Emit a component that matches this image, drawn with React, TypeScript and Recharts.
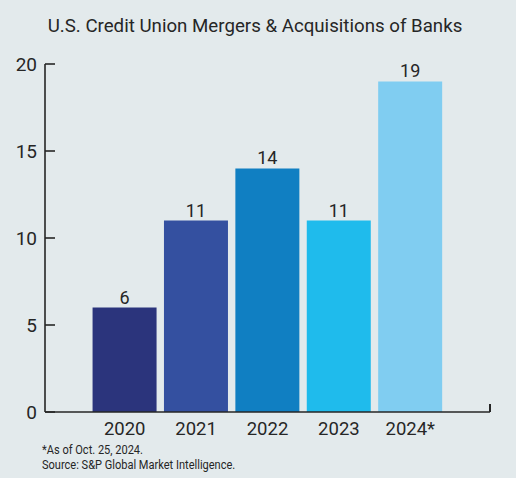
import { BarChart, Bar, XAxis, YAxis, LabelList, Cell } from "recharts";

const years = ["2020", "2021", "2022", "2023", "2024*"];
const deals = [6, 11, 14, 11, 19];
const barColors = ["#2b347c", "#3450a0", "#107fc2", "#1fbbec", "#80cdf1"];
const yTicks = [0, 5, 10, 15, 20];

const data = years.map((year, i) => ({ year, deals: deals[i] }));

const ink = "#262626";

// y tick: label on the left, short tick line pointing into the plot
const YTick = (props: any) => {
  const { x, y, payload } = props;
  return (
    <g>
      <line x1={x + 8} y1={y} x2={x + 18} y2={y} stroke={ink} strokeWidth={1.6} />
      <text x={x} y={y} dy="0.36em" textAnchor="end" fontSize={19} fill={ink} fontFamily="Roboto">
        {payload.value}
      </text>
    </g>
  );
};

const App = () => {
  return (
    <div
      style={{
        position: "absolute",
        left: 0,
        top: 0,
        width: 516,
        height: 478,
        background: "#e3eaec",
        fontFamily: "Roboto",
        color: ink,
        overflow: "hidden",
      }}
    >
      <div
        style={{
          position: "absolute",
          top: 14,
          left: 0,
          width: 510,
          textAlign: "center",
          fontSize: 18.7,
          lineHeight: "24px",
        }}
      >
        U.S. Credit Union Mergers &amp; Acquisitions of Banks
      </div>
      <BarChart
        width={516}
        height={478}
        data={data}
        margin={{ top: 64, right: 26, bottom: 36, left: 0 }}
        barCategoryGap="5%"
      >
        <XAxis
          dataKey="year"
          axisLine={{ stroke: ink, strokeWidth: 1.6 }}
          tickLine={false}
          tickSize={0}
          tickMargin={10}
          height={30}
          padding={{ left: 44, right: 44 }}
          tick={{ fontSize: 18.5, fill: ink, fontFamily: "Roboto" }}
        />
        <YAxis
          domain={[0, 20]}
          ticks={yTicks}
          width={45}
          axisLine={{ stroke: ink, strokeWidth: 1.6 }}
          tickLine={false}
          tickSize={0}
          tickMargin={8}
          tick={<YTick />}
          interval={0}
        />
        <Bar dataKey="deals" isAnimationActive={false}>
          {data.map((d, i) => (
            <Cell key={d.year} fill={barColors[i]} />
          ))}
          <LabelList dataKey="deals" position="top" offset={4} fontSize={18} fill={ink} fontFamily="Roboto" />
        </Bar>
      </BarChart>
      <div
        style={{
          position: "absolute",
          left: 489,
          top: 404,
          width: 1.6,
          height: 8,
          background: ink,
        }}
      />
      <div
        style={{
          position: "absolute",
          left: 42,
          top: 443,
          fontSize: 12,
          lineHeight: "14.5px",
          transform: "scaleX(0.92)",
          transformOrigin: "left top",
          whiteSpace: "nowrap",
        }}
      >
        *As of Oct. 25, 2024.
        <br />
        Source: S&amp;P Global Market Intelligence.
      </div>
    </div>
  );
};

export default App;
